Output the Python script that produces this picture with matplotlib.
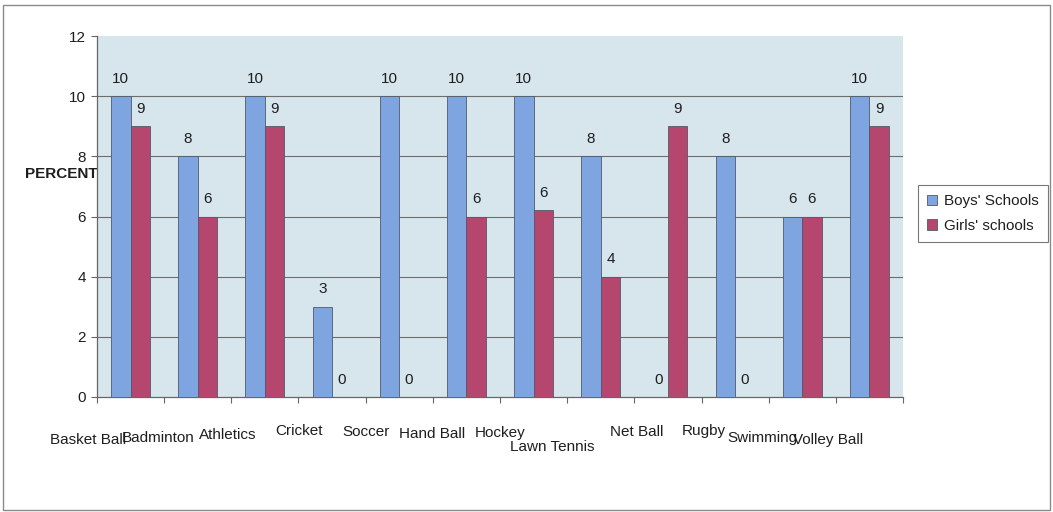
import numpy as np
import matplotlib
matplotlib.use("Agg")
import matplotlib.pyplot as plt
from matplotlib.patches import Rectangle
from matplotlib.transforms import blended_transform_factory, ScaledTranslation

plt.rcParams['font.family'] = ['Liberation Sans', 'DejaVu Sans']

sports = ["Basket Ball", "Badminton", "Athletics", "Cricket", "Soccer", "Hand Ball",
          "Hockey", "Lawn Tennis", "Net Ball", "Rugby", "Swimming", "Volley Ball"]
boys = [10, 8, 10, 3, 10, 10, 10, 8, 0, 8, 6, 10]
girls = [9, 6, 9, 0, 0, 6, 6.2, 4, 9, 0, 6, 9]
series_names = ["Boys' Schools", "Girls' schools"]
y_ticks = [0, 2, 4, 6, 8, 10, 12]

# label placement tweaks (pixels): horizontal shift, depth below the axis
label_dx = [-9, -6, -4, 1, 0, -1, 0, -15, 2, 2, -6, -8]
label_dy = [43, 41, 38, 34, 35, 37, 36, 50, 35, 34, 41, 43]

blue = "#7fa5e0"
red = "#b5476f"
plot_bg = "#d7e5ec"
text_col = "#1e1e1e"
fs = 11

fig = plt.figure(figsize=(10.53, 5.12), dpi=100)
fig.patches.append(Rectangle((3 / 1053, 2 / 512), 1047 / 1053, 505 / 512,
                             transform=fig.transFigure, fill=False,
                             edgecolor="#8a8a8a", linewidth=1.0))

ax = fig.add_axes([97 / 1053, 1 - 397 / 512, 806 / 1053, 361 / 512])
ax.set_facecolor(plot_bg)

x = np.arange(len(sports))
w = 0.29
b1 = ax.bar(x - w / 2, boys, w, color=blue, edgecolor="#505a6a", linewidth=0.6,
            label=series_names[0], zorder=3)
b2 = ax.bar(x + w / 2, girls, w, color=red, edgecolor="#505a6a", linewidth=0.6,
            label=series_names[1], zorder=3)
for bars in (b1, b2):
    ax.bar_label(bars, fmt="%.0f", padding=7.5, fontsize=fs, color=text_col)

ax.set_xlim(-0.5, len(sports) - 0.5)
ax.set_ylim(0, 12)
ax.set_yticks(y_ticks)
ax.tick_params(axis='y', labelsize=fs, labelcolor=text_col, length=4,
               color="#666666", pad=4)

# horizontal gridlines between 0 and the top of the scale
for v in y_ticks[1:-1]:
    ax.axhline(v, color="#6e6e6e", linewidth=0.8, zorder=1)

# tick marks on category boundaries; names placed at each group's left edge
ax.set_xticks(np.arange(len(sports) + 1) - 0.5)
ax.set_xticklabels([])
ax.tick_params(axis='x', length=4, color="#666666")
base = blended_transform_factory(ax.transData, ax.transAxes)
for i, name in enumerate(sports):
    off = ScaledTranslation(label_dx[i] / 100, -label_dy[i] / 100, fig.dpi_scale_trans)
    ax.text(i - 0.5, 0, name, transform=base + off, ha="center", va="center",
            fontsize=fs, color=text_col)

for side in ("top", "right"):
    ax.spines[side].set_visible(False)
for side in ("left", "bottom"):
    ax.spines[side].set_color("#666666")
    ax.spines[side].set_linewidth(0.9)

ax.set_ylabel("PERCENT", rotation=0, fontsize=fs, fontweight="bold", color=text_col)
ax.yaxis.set_label_coords(-0.044, 0.598)

leg = fig.legend(loc="upper left", bbox_to_anchor=(918 / 1053, 1 - 185 / 512),
                 frameon=True, fancybox=False, fontsize=fs, handlelength=0.65,
                 handleheight=0.65, handletextpad=0.45, borderpad=0.6,
                 labelspacing=0.7, edgecolor="#555555", borderaxespad=0)
leg.get_frame().set_linewidth(0.8)
for t in leg.get_texts():
    t.set_color(text_col)

fig.savefig("out.png", dpi=100, facecolor="white")
